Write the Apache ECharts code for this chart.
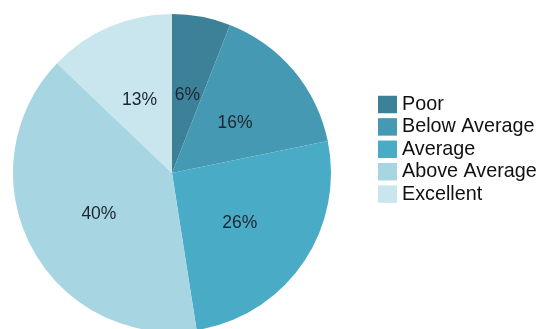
<!DOCTYPE html>
<html>
<head>
<meta charset="utf-8">
<script src="https://cdn.jsdelivr.net/npm/echarts@6/dist/echarts.min.js"></script>
<style>
  html, body { margin: 0; padding: 0; background: #ffffff; }
  #chart { width: 539px; height: 329px; }
</style>
</head>
<body>
<div id="chart"></div>
<script>
// Rating categories and their share of responses (percent)
const categories = ['Poor', 'Below Average', 'Average', 'Above Average', 'Excellent'];
const percents = [6, 16, 26, 40, 13];
const palette = ['#3d8198', '#4699b2', '#4aabc6', '#a8d5e2', '#c9e6ee'];

const chart = echarts.init(document.getElementById('chart'), null, { renderer: 'canvas' });

chart.setOption({
  animation: false,
  color: palette,
  legend: {
    orient: 'vertical',
    left: 378,
    top: 94.5,
    padding: 0,
    itemWidth: 19,
    itemHeight: 17.5,
    itemGap: 2.4,
    icon: 'rect',
    textStyle: {
      fontFamily: 'Liberation Sans, Arial, sans-serif',
      fontSize: 19.75,
      lineHeight: 19,
      color: '#111111'
    },
    data: categories
  },
  series: [{
    type: 'pie',
    center: [172, 173],
    radius: 159,
    startAngle: 90,
    clockwise: true,
    silent: true,
    itemStyle: { borderWidth: 0 },
    label: {
      show: true,
      position: 'inside',
      formatter: '{c}%',
      fontFamily: 'Liberation Sans, Arial, sans-serif',
      fontSize: 17.5,
      color: '#1c2530',
      offset: [0, 3]
    },
    labelLine: { show: false },
    data: categories.map((name, i) => ({ name: name, value: percents[i] }))
  }]
});
</script>
</body>
</html>
